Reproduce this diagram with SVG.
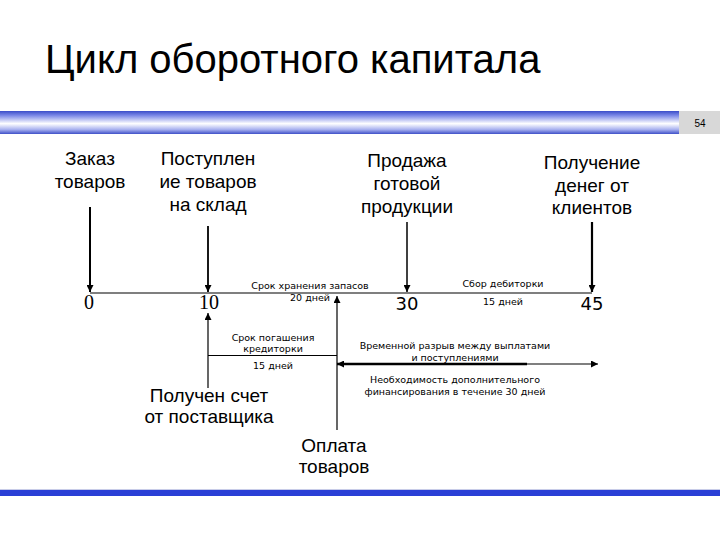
<svg xmlns="http://www.w3.org/2000/svg" width="720" height="540" viewBox="0 0 720 540">
  <style>
    .title { font-family: "Liberation Sans", Arial, sans-serif; font-size: 40px; fill: #000; }
    .lbl { font-family: "Liberation Sans", Arial, sans-serif; font-size: 19px; fill: #000; text-anchor: middle; }
    .sm { font-family: "DejaVu Sans", Verdana, sans-serif; font-size: 9.5px; fill: #000; text-anchor: middle; }
    .numS { font-family: "Liberation Serif", "Times New Roman", serif; font-size: 20px; fill: #000; text-anchor: middle; }
    .numV { font-family: "DejaVu Sans", Verdana, sans-serif; font-size: 18px; fill: #000; text-anchor: middle; }
    .pg { font-family: "Liberation Sans", Arial, sans-serif; font-size: 10px; fill: #000; text-anchor: middle; }
    .ln { stroke: #000; fill: none; }
  </style>
  <defs>
    <linearGradient id="bar" x1="0" y1="0" x2="0" y2="1">
      <stop offset="0" stop-color="#3a4cc8"/>
      <stop offset="0.2" stop-color="#7d8ae8"/>
      <stop offset="0.55" stop-color="#ffffff"/>
      <stop offset="0.8" stop-color="#aab3f0"/>
      <stop offset="1" stop-color="#3f50c8"/>
    </linearGradient>
    <marker id="ah" viewBox="0 0 10 10" refX="10" refY="5" markerWidth="7" markerHeight="7" markerUnits="userSpaceOnUse" orient="auto">
      <path d="M0,0 L10,5 L0,10 Z" fill="#000"/>
    </marker>
    <marker id="ahs" viewBox="0 0 10 10" refX="10" refY="5" markerWidth="7" markerHeight="7" markerUnits="userSpaceOnUse" orient="auto-start-reverse">
      <path d="M0,0 L10,5 L0,10 Z" fill="#000"/>
    </marker>
  </defs>

  <rect x="0" y="0" width="720" height="540" fill="#ffffff"/>

  <g id="header">
    <text class="title" x="45" y="73">Цикл оборотного капитала</text>
    <rect x="0" y="111" width="679" height="23" fill="url(#bar)"/>
    <rect x="679" y="111" width="41" height="23" fill="#d8d8d8"/>
    <text class="pg" x="700" y="127">54</text>
  </g>

  <g id="footer">
    <rect x="0" y="489" width="720" height="1" fill="#c8cce8"/>
    <rect x="0" y="490" width="720" height="6" fill="#2a3fd6"/>
  </g>

  <g id="connectors">
    <line class="ln" x1="90" y1="207" x2="90" y2="292" stroke-width="2" marker-end="url(#ah)"/>
    <line class="ln" x1="208" y1="226" x2="208" y2="292" stroke-width="1.8" marker-end="url(#ah)"/>
    <line class="ln" x1="407" y1="222" x2="407" y2="292" stroke-width="1.5" marker-end="url(#ah)"/>
    <line class="ln" x1="592" y1="222" x2="592" y2="292" stroke-width="2.2" marker-end="url(#ah)"/>
    <line class="ln" x1="90" y1="293" x2="592" y2="293" stroke-width="1.2"/>
    <line class="ln" x1="208" y1="388" x2="208" y2="313" stroke-width="1.2" marker-end="url(#ah)"/>
    <line class="ln" x1="208" y1="355.5" x2="337" y2="355.5" stroke-width="1.2"/>
    <line class="ln" x1="337" y1="430" x2="337" y2="296" stroke-width="1.2" marker-end="url(#ah)"/>
    <line class="ln" x1="527" y1="364" x2="337" y2="364" stroke-width="2.6" marker-end="url(#ah)"/>
    <line class="ln" x1="524" y1="364" x2="598" y2="364" stroke-width="1.2" marker-end="url(#ah)"/>
  </g>

  <g id="n-order">
    <text class="lbl" x="90" y="165">Заказ</text>
    <text class="lbl" x="90" y="188">товаров</text>
    <text class="numS" x="89" y="309">0</text>
  </g>
  <g id="n-receipt">
    <text class="lbl" x="208" y="165">Поступлен</text>
    <text class="lbl" x="208" y="188">ие товаров</text>
    <text class="lbl" x="208" y="211">на склад</text>
    <text class="numS" x="209" y="309">10</text>
  </g>
  <g id="n-sale">
    <text class="lbl" x="407" y="167">Продажа</text>
    <text class="lbl" x="407" y="190">готовой</text>
    <text class="lbl" x="407" y="213">продукции</text>
    <text class="numV" x="407" y="310">30</text>
  </g>
  <g id="n-money">
    <text class="lbl" x="592" y="169">Получение</text>
    <text class="lbl" x="592" y="192">денег от</text>
    <text class="lbl" x="592" y="214">клиентов</text>
    <text class="numV" x="592" y="310">45</text>
  </g>
  <g id="n-invoice">
    <text class="lbl" x="209" y="402">Получен счет</text>
    <text class="lbl" x="209" y="423">от поставщика</text>
  </g>
  <g id="n-payment">
    <text class="lbl" x="334" y="452">Оплата</text>
    <text class="lbl" x="334" y="473">товаров</text>
  </g>

  <g id="labels">
    <text class="sm" x="310" y="289">Срок хранения запасов</text>
    <text class="sm" x="310" y="301">20 дней</text>
    <text class="sm" x="273" y="341">Срок погашения</text>
    <text class="sm" x="273" y="352">кредиторки</text>
    <text class="sm" x="273" y="369">15 дней</text>
    <text class="sm" x="503" y="287">Сбор дебиторки</text>
    <text class="sm" x="503" y="305">15 дней</text>
    <text class="sm" x="455" y="349">Временной разрыв между выплатами</text>
    <text class="sm" x="455" y="361">и поступлениями</text>
    <text class="sm" x="455" y="383">Необходимость дополнительного</text>
    <text class="sm" x="455" y="395">финансирования в течение 30 дней</text>
  </g>
</svg>
